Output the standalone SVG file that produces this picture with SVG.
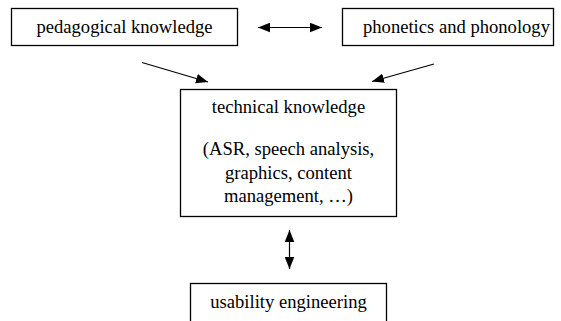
<svg xmlns="http://www.w3.org/2000/svg" width="561" height="321" viewBox="0 0 561 321">
<style>
.box{fill:#fff;stroke:#000;stroke-width:1.3}
.t{font-family:'Liberation Serif',Tinos,'DejaVu Serif',serif;font-size:18.6px;fill:#000;text-anchor:middle}
.c{stroke:#000;stroke-width:1.2;fill:none}
</style>
<defs>
<marker id="ah" markerUnits="userSpaceOnUse" markerWidth="12" markerHeight="10" refX="10" refY="4" orient="auto-start-reverse" viewBox="0 0 10 8">
<path d="M0,0 L10,4 L0,8 Z" fill="#000"/>
</marker>
</defs>
<rect width="561" height="321" fill="#fff"/>
<g id="pedagogical">
<rect class="box" x="11.5" y="8.5" width="226" height="37"/>
<text class="t" x="124.5" y="33">pedagogical knowledge</text>
</g>
<g id="phonetics">
<rect class="box" x="342.5" y="8.5" width="211" height="37"/>
<text class="t" x="456.5" y="33">phonetics and phonology</text>
</g>
<g id="technical">
<rect class="box" x="180.5" y="89.5" width="216" height="127"/>
<text class="t" x="288.5" y="113">technical knowledge</text>
<text class="t" x="288.5" y="155">(ASR, speech analysis,</text>
<text class="t" x="288.5" y="178.5">graphics, content</text>
<text class="t" x="288.5" y="202">management, …)</text>
</g>
<g id="usability">
<rect class="box" x="190.5" y="283.5" width="196" height="50"/>
<text class="t" x="288.5" y="308">usability engineering</text>
</g>
<g id="connectors">
<line class="c" x1="258" y1="27.5" x2="322" y2="27.5" marker-start="url(#ah)" marker-end="url(#ah)"/>
<line class="c" x1="142" y1="62.5" x2="208" y2="82" marker-end="url(#ah)"/>
<line class="c" x1="434" y1="64" x2="372" y2="81.5" marker-end="url(#ah)"/>
<line class="c" x1="289.5" y1="230" x2="289.5" y2="269" marker-start="url(#ah)" marker-end="url(#ah)"/>
</g>
</svg>
